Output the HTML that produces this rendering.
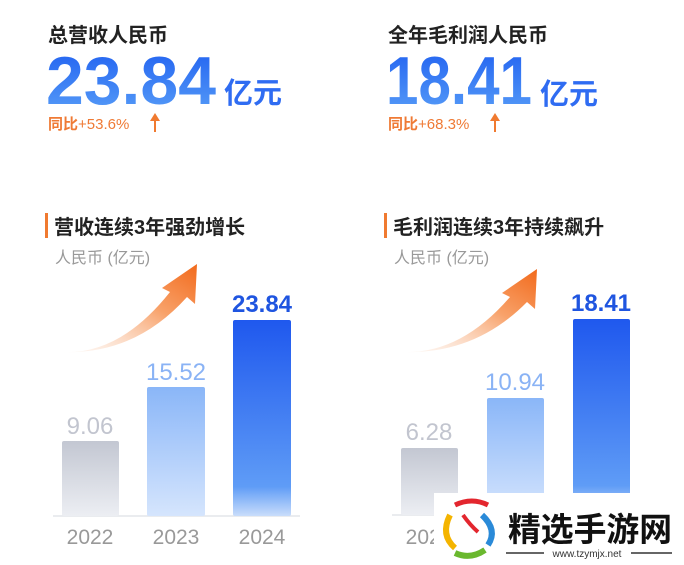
<!DOCTYPE html>
<html><head><meta charset="utf-8"><style>
html,body{margin:0;padding:0;background:#fff;}
body{width:684px;height:565px;overflow:hidden;position:relative;font-family:"Liberation Sans","Noto Sans CJK SC",sans-serif;}
</style></head><body>
<svg width="684" height="565" viewBox="0 0 684 565" xmlns="http://www.w3.org/2000/svg" style="position:absolute;left:0;top:0">
<defs>
<linearGradient id="bigt" x1="0" y1="0" x2="0" y2="1"><stop offset="0" stop-color="#1e5ef0"/><stop offset="1" stop-color="#5aa0f8"/></linearGradient>
<linearGradient id="g1" x1="0" y1="0" x2="0" y2="1"><stop offset="0" stop-color="#c3c7d2"/><stop offset="1" stop-color="#eceef3"/></linearGradient>
<linearGradient id="g2" x1="0" y1="0" x2="0" y2="1"><stop offset="0" stop-color="#8ab6f8"/><stop offset="1" stop-color="#d5e5fd"/></linearGradient>
<linearGradient id="g3" x1="0" y1="0" x2="0" y2="1"><stop offset="0" stop-color="#1f58ee"/><stop offset="0.85" stop-color="#5f9cf6"/><stop offset="1" stop-color="#c9ddfb"/></linearGradient>
<linearGradient id="ar" x1="0" y1="1" x2="1" y2="0"><stop offset="0" stop-color="#fbe3d4" stop-opacity="0.2"/><stop offset="0.6" stop-color="#f8a26a"/><stop offset="1" stop-color="#f26a1c"/></linearGradient>
</defs>
<g font-family="Liberation Sans, Noto Sans CJK SC, sans-serif">
<text x="48" y="42" font-size="20" font-weight="bold" fill="#222">总营收人民币</text>
<text x="388" y="42" font-size="20" font-weight="bold" fill="#222">全年毛利润人民币</text>
<text x="46" y="104" font-size="68" font-weight="bold" fill="url(#bigt)" textLength="170" lengthAdjust="spacingAndGlyphs">23.84</text>
<text x="224" y="103" font-size="29" font-weight="bold" fill="#2f6cf2">亿元</text>
<text x="386" y="104" font-size="68" font-weight="bold" fill="url(#bigt)" textLength="146" lengthAdjust="spacingAndGlyphs">18.41</text>
<text x="540" y="104" font-size="29" font-weight="bold" fill="#2f6cf2">亿元</text>
<text x="48" y="129" font-size="15" font-weight="bold" fill="#ef7a35">同比<tspan font-weight="normal">+53.6%</tspan></text>
<path d="M154 132V121h-4l5-8 5 8h-4v11z" fill="#f07a30"/>
<text x="388" y="129" font-size="15" font-weight="bold" fill="#ef7a35">同比<tspan font-weight="normal">+68.3%</tspan></text>
<path d="M494 132V121h-4l5-8 5 8h-4v11z" fill="#f07a30"/>
<rect x="45" y="213" width="3" height="25" fill="#f07a30"/>
<text x="54" y="234" font-size="20" font-weight="bold" fill="#222">营收连续3年强劲增长</text>
<rect x="384" y="213" width="3" height="25" fill="#f07a30"/>
<text x="393" y="234" font-size="20" font-weight="bold" fill="#222">毛利润连续3年持续飙升</text>
<text x="55" y="263" font-size="16" fill="#999">人民币 (亿元)</text>
<text x="394" y="263" font-size="16" fill="#999">人民币 (亿元)</text>
<path d="M62 352 Q120 355 170 292 L162 288 L197 264 L195 304 L187 297 Q135 355 62 352Z" fill="url(#ar)"/>
<path d="M401 352 Q460 355 510 297 L502 293 L537 269 L535 309 L527 302 Q475 355 401 352Z" fill="url(#ar)"/>
<line x1="53" y1="516" x2="300" y2="516" stroke="#e3e5ea" stroke-width="1.5"/>
<rect x="62" y="441" width="57" height="75" rx="2" fill="url(#g1)"/>
<rect x="147" y="387" width="58" height="129" rx="2" fill="url(#g2)"/>
<rect x="233" y="320" width="58" height="196" rx="2" fill="url(#g3)"/>
<text x="90" y="434" font-size="24" text-anchor="middle" fill="#c2c5cf">9.06</text>
<text x="176" y="380" font-size="24" text-anchor="middle" fill="#8ab3f5">15.52</text>
<text x="262" y="312" font-size="24" font-weight="bold" text-anchor="middle" fill="#1f55e0">23.84</text>
<text x="90" y="544" font-size="21" text-anchor="middle" fill="#999">2022</text>
<text x="176" y="544" font-size="21" text-anchor="middle" fill="#999">2023</text>
<text x="262" y="544" font-size="21" text-anchor="middle" fill="#999">2024</text>
<line x1="392" y1="515" x2="640" y2="515" stroke="#e3e5ea" stroke-width="1.5"/>
<rect x="401" y="448" width="57" height="67" rx="2" fill="url(#g1)"/>
<rect x="487" y="398" width="57" height="117" rx="2" fill="url(#g2)"/>
<rect x="573" y="319" width="57" height="196" rx="2" fill="url(#g3)"/>
<text x="429" y="440" font-size="24" text-anchor="middle" fill="#c2c5cf">6.28</text>
<text x="515" y="390" font-size="24" text-anchor="middle" fill="#8ab3f5">10.94</text>
<text x="601" y="311" font-size="24" font-weight="bold" text-anchor="middle" fill="#1f55e0">18.41</text>
<text x="429" y="544" font-size="21" text-anchor="middle" fill="#999">2022</text>
<rect x="434" y="493" width="250" height="72" fill="#fff"/>
<path d="M455 505 Q472 497 488 505" stroke="#e3262e" stroke-width="5" fill="none"/>
<path d="M450 515 Q440 535 455 548" stroke="#f4b400" stroke-width="6" fill="none"/>
<path d="M482 515 Q498 530 488 545" stroke="#2a8ad8" stroke-width="6" fill="none"/>
<path d="M455 553 Q470 560 485 550" stroke="#6ab82e" stroke-width="6" fill="none"/>
<path d="M463 515 Q470 525 478 532" stroke="#e3262e" stroke-width="4" fill="none"/>
<text x="508" y="541" font-size="33" font-weight="bold" fill="#111" textLength="164" lengthAdjust="spacingAndGlyphs">精选手游网</text>
<line x1="506" y1="553" x2="544" y2="553" stroke="#333" stroke-width="1.5"/>
<line x1="631" y1="553" x2="672" y2="553" stroke="#333" stroke-width="1.5"/>
<text x="587" y="557" font-size="10" text-anchor="middle" fill="#333">www.tzymjx.net</text>
</g>
</svg>
</body></html>
